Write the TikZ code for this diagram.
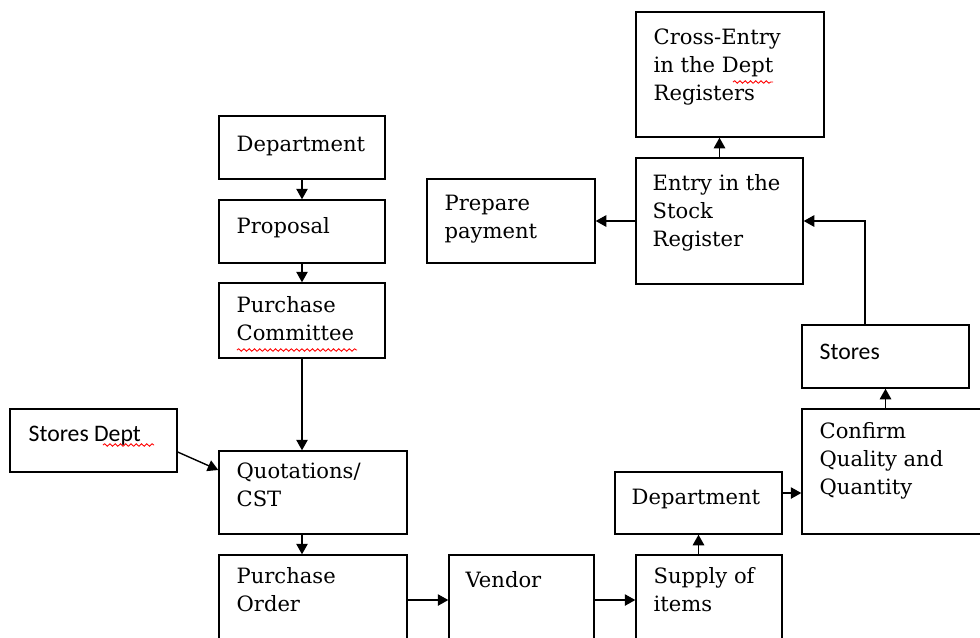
\documentclass[tikz,border=0pt]{standalone}
\usepackage{fontspec}
\setmainfont{DejaVu Serif}
\newfontfamily\storesfont{Carlito}
\usetikzlibrary{arrows.meta,decorations.pathmorphing}

\begin{document}
\begin{tikzpicture}[x=0.02cm, y=-0.02cm,
  box/.style={draw, line width=0.8pt, rectangle, inner sep=0pt},
  lbl/.style={anchor=north west, inner sep=0pt, align=left,
    font=\fontsize{12}{16}\selectfont, execute at begin node=\strut},
  sanslbl/.style={lbl, font=\storesfont\fontsize{13.5}{16}\selectfont},
  arr/.style={line width=0.8pt, -{Triangle[length=6pt,width=6.5pt]}},
  squiggle/.style={red, line width=0.5pt, decorate,
    decoration={snake, amplitude=0.7pt, segment length=3pt}}]

% one pixel of the original drawing
\def\px{0.02cm}

% the page is the original's frame; boxes at the edges run past it
\clip (0,0) rectangle (980,637);

%--- Left column: request side ---
\node[box, minimum width=166*\px, minimum height=63*\px] (dept) at (302,147.5) {};
\node[box, minimum width=166*\px, minimum height=63*\px] (prop) at (302,231.5) {};
\node[box, minimum width=166*\px, minimum height=75*\px] (comm) at (302,320.5) {};
\node[box, minimum width=167*\px, minimum height=63*\px] (storesdept) at (93.5,440.5) {};
\node[box, minimum width=188*\px, minimum height=83*\px] (quot) at (313,492.5) {};
\node[box, minimum width=188*\px, minimum height=125*\px] (order) at (313,617.5) {};

%--- Bottom row and receiving side ---
\node[box, minimum width=145*\px, minimum height=125*\px] (vendor) at (521.5,617.5) {};
\node[box, minimum width=146*\px, minimum height=125*\px] (supply) at (709,617.5) {};
\node[box, minimum width=167*\px, minimum height=62*\px] (recdept) at (698.5,503) {};
\node[box, minimum width=198*\px, minimum height=125*\px] (confirm) at (901,471.5) {};
\node[box, minimum width=167*\px, minimum height=63*\px] (stores) at (885.5,356.5) {};

%--- Top right: registers and payment ---
\node[box, minimum width=167*\px, minimum height=126*\px] (entry) at (719.5,221) {};
\node[box, minimum width=188*\px, minimum height=125*\px] (cross) at (730,74.5) {};
\node[box, minimum width=168*\px, minimum height=84*\px] (payment) at (511,221) {};

%--- Labels (top left inside each box; first baseline 20px below the shift point) ---
\node[lbl] (dept-t) at ([shift={(18,16)}]dept.north west) {Department};
\node[lbl] (prop-t) at ([shift={(18,14)}]prop.north west) {Proposal};
\node[lbl] (comm-t) at ([shift={(18,14)}]comm.north west) {Purchase\\Committee};
\node[sanslbl] (storesdept-t) at ([shift={(19,13)}]storesdept.north west) {Stores Dept};
\node[lbl] (quot-t) at ([shift={(18,12)}]quot.north west) {Quotations/\\CST};
\node[lbl] (order-t) at ([shift={(18,13)}]order.north west) {Purchase\\Order};
\node[lbl] (vendor-t) at ([shift={(17,13)}]vendor.north west) {Vendor};
\node[lbl] (supply-t) at ([shift={(18,13)}]supply.north west) {Supply of\\items};
\node[lbl] (recdept-t) at ([shift={(17,13)}]recdept.north west) {Department};
\node[lbl] (confirm-t) at ([shift={(18,14)}]confirm.north west) {Confirm\\Quality and\\Quantity};
\node[sanslbl] (stores-t) at ([shift={(18,15)}]stores.north west) {Stores};
\node[lbl] (entry-t) at ([shift={(17,17)}]entry.north west) {Entry in the\\Stock\\Register};
\node[lbl] (cross-t) at ([shift={(18,17)}]cross.north west) {Cross-Entry\\in the Dept\\Registers};
\node[lbl] (payment-t) at ([shift={(18,16)}]payment.north west) {Prepare\\payment};

%--- Spell-check marks under some words
\draw[squiggle] (237,350) -- (357,350);
\draw[squiggle] (103,445) -- (154,445);
\draw[squiggle] (733,82) -- (773,82);

%--- Arrows ---
\draw[arr] (dept) -- (prop);
\draw[arr] (prop) -- (comm);
\draw[arr] (comm.south) -- (comm.south |- quot.north);
\draw[arr] ([yshift=-0.23cm]storesdept.east) -- ([yshift=0.45cm]quot.west);
\draw[arr] (quot.south -| comm.south) -- (order.north -| comm.south);
\draw[arr] ([yshift=0.35cm]order.east) -- ([yshift=0.35cm]vendor.west);
\draw[arr] ([yshift=0.35cm]vendor.east) -- ([yshift=0.35cm]supply.west);
\draw[arr] (supply.north -| recdept.south) -- (recdept.south);
\draw[arr] ([yshift=0.2cm]recdept.east) -- ([yshift=0.2cm]recdept.east -| confirm.west);
\draw[arr] (confirm.north -| stores.south) -- (stores.south);
\draw[arr] ([xshift=-0.41cm]stores.north) |- (entry.east);
\draw[arr] (entry) -- (payment);
\draw[arr] (entry.north) -- (entry.north |- cross.south);

\end{tikzpicture}
\end{document}
